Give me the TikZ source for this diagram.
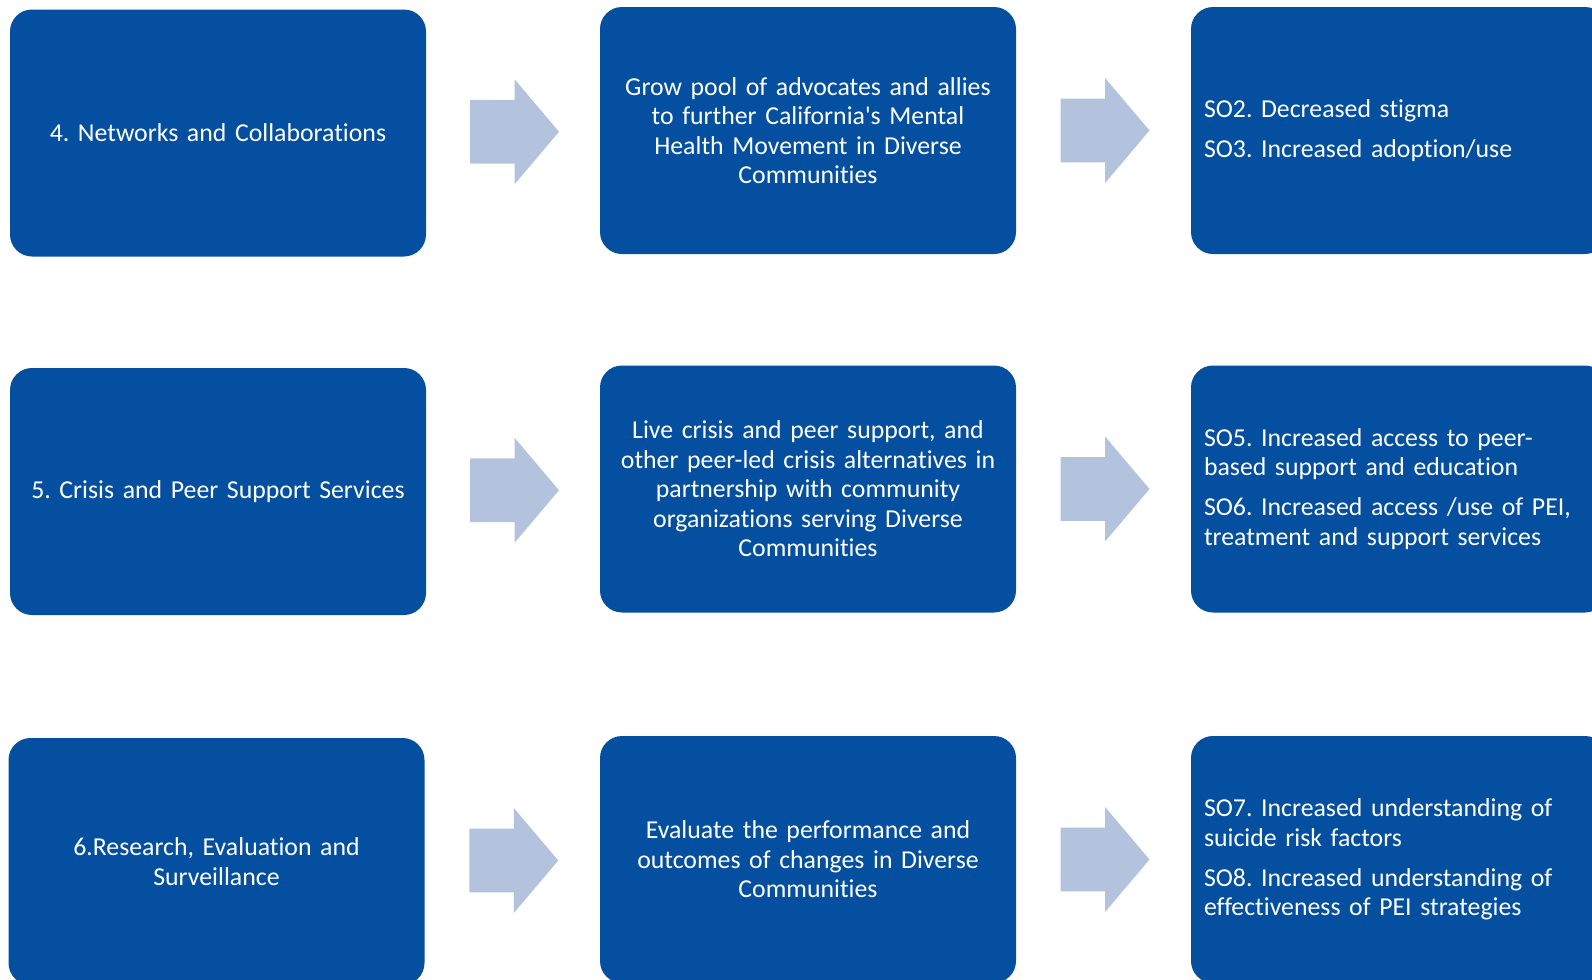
\documentclass[tikz,border=0pt]{standalone}
\usepackage{fontspec}
\setmainfont{Carlito}[Ligatures={TeX,NoCommon}]
\usepackage{tikz}
\usetikzlibrary{shapes.arrows}
\definecolor{boxblue}{RGB}{4,79,159}
\definecolor{arrowgray}{RGB}{179,195,222}
\frenchspacing

\begin{document}
\begin{tikzpicture}[x=0.5pt,y=-0.5pt]
    \tikzstyle{box}=[fill=boxblue,draw=none,rounded corners=11pt,text=white,minimum width=208pt,minimum height=123.5pt,inner xsep=6.5pt,text width=195pt,font=\fontsize{12.9pt}{14.75pt}\selectfont]
    \tikzstyle{mid}=[box,align=center]
    \tikzstyle{goal}=[box,align=left]
    \tikzstyle{flow}=[single arrow,fill=arrowgray,draw=none,inner xsep=0pt,inner ysep=15.75pt,minimum height=44.5pt,single arrow head extend=10.25pt,single arrow tip angle=99.5,xshift=-6pt]

    \clip (0,0) rectangle (1592,980);

    % row 4
    \node[mid] (act-4) at (218,133) {4. Networks and Collaborations};
    \node[mid] (out-4) at (808,130.5) {Grow pool of advocates and allies\\to further California\textquotesingle s Mental\\Health Movement in Diverse\\Communities};
    \node[goal] (so-4) at (1399,130.5) {SO2. Decreased stigma\\[5.25pt]SO3. Increased adoption/use};

    % row 5
    \node[mid] (act-5) at (218,491.5) {5. Crisis and Peer Support Services};
    \node[mid] (out-5) at (808,489) {Live crisis and peer support, and\\other peer-led crisis alternatives in\\partnership with community\\organizations serving Diverse\\Communities};
    \node[goal] (so-5) at (1399,489) {SO5. Increased access to peer-\\based support and education\\[5.25pt]SO6. Increased access /use of PEI,\\treatment and support services};

    % row 6
    \node[mid] (act-6) at (216.5,861.5) {6.Research, Evaluation and\\Surveillance};
    \node[mid] (out-6) at (808,859.5) {Evaluate the performance and\\outcomes of changes in Diverse\\Communities};
    \node[goal] (so-6) at (1399,859.5) {SO7. Increased understanding of\\suicide risk factors\\[5.25pt]SO8. Increased understanding of\\effectiveness of PEI strategies};

    % block arrows between the boxes
    \path (act-4.east) -- (out-4.west) node[midway,flow]{};
    \path (out-4.east) -- (so-4.west) node[midway,flow]{};
    \path (act-5.east) -- (out-5.west) node[midway,flow]{};
    \path (out-5.east) -- (so-5.west) node[midway,flow]{};
    \path (act-6.east) -- (out-6.west) node[midway,flow]{};
    \path (out-6.east) -- (so-6.west) node[midway,flow]{};
\end{tikzpicture}
\end{document}
